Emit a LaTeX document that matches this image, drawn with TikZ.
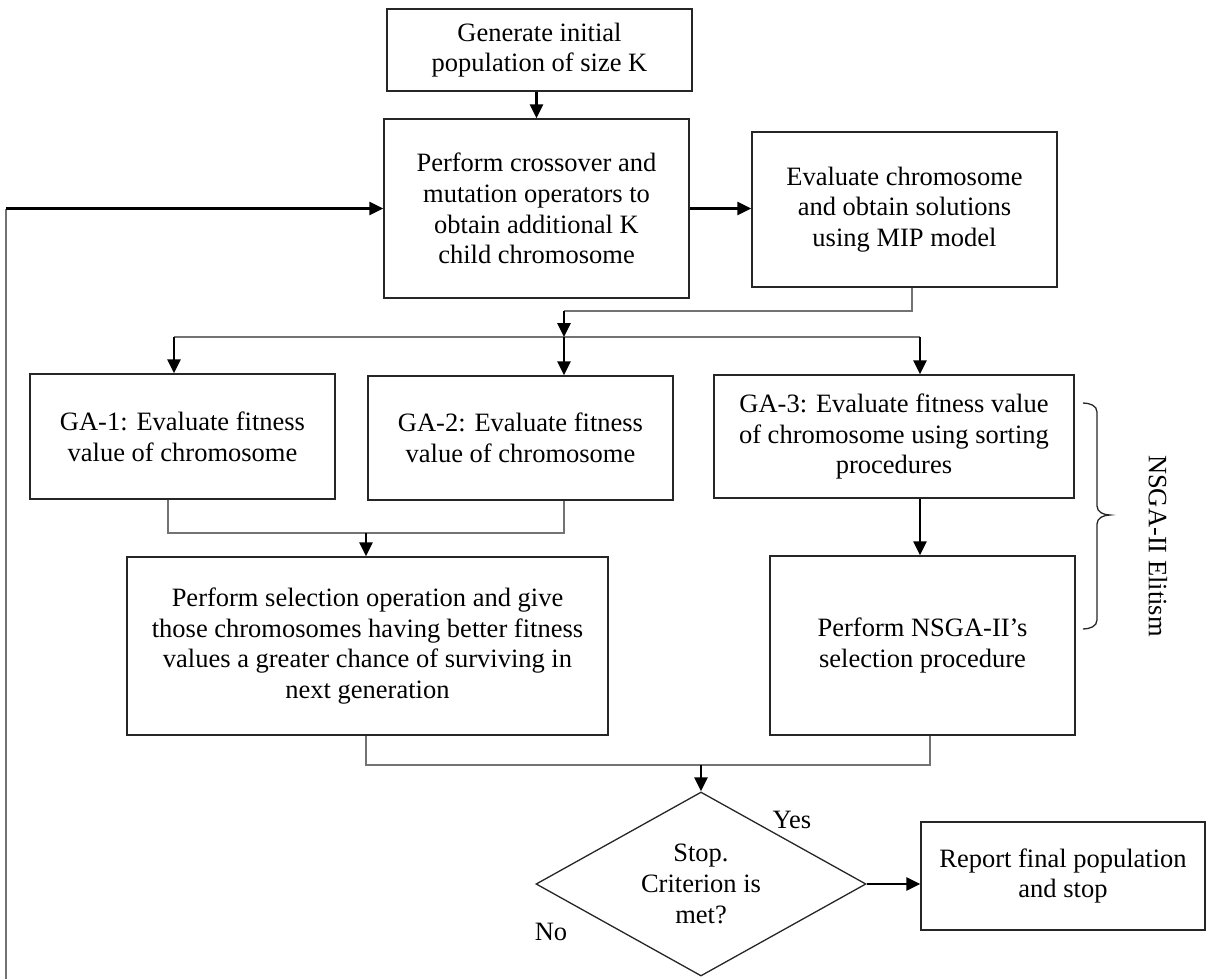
\documentclass[tikz,border=0pt]{standalone}
\usepackage{fontspec}
\setmainfont{Liberation Serif}
\usetikzlibrary{arrows.meta,shapes.geometric}
\begin{document}
\begin{tikzpicture}[x=1pt,y=-1pt,
  box/.style={draw=black!85, line width=1.3pt, align=center, inner sep=0pt, font=\fontsize{26.5}{30.7}\selectfont},
  conn/.style={draw=black!55, line width=1.6pt},
  arr/.style={draw=black, line width=2.6pt, -{Triangle[length=14pt,width=13pt]}},
  lbl/.style={font=\fontsize{26.5}{30.7}\selectfont},
  brace/.style={draw=black!85, line width=1.3pt}]
\useasboundingbox (0,0) rectangle (1207,979);

\node[box, minimum width=305, minimum height=82] (box1) at (539.5,50) {Generate initial\\population of size K};
\node[box, minimum width=305, minimum height=179] (box2) at (536.5,208.5) {Perform crossover and\\mutation operators to\\obtain additional K\\child chromosome};
\node[box, minimum width=305, minimum height=155] (box3) at (904.5,209.5) {Evaluate chromosome\\and obtain solutions\\using MIP model};
\node[box, minimum width=305, minimum height=125] (ga1) at (182.5,436.5) {GA-1: Evaluate fitness\\value of chromosome};
\node[box, minimum width=305, minimum height=124] (ga2) at (520.5,438) {GA-2: Evaluate fitness\\value of chromosome};
\node[box, minimum width=360, minimum height=123] (ga3) at (894,436.5) {GA-3: Evaluate fitness value\\of chromosome using sorting\\procedures};
\node[box, minimum width=481, minimum height=178] (box4) at (367.5,646) {Perform selection operation and give\\those chromosomes having better fitness\\values a greater chance of surviving in\\next generation};
\node[box, minimum width=305, minimum height=179] (box5) at (922.5,645.5) {Perform NSGA-II\textquoteright s\\selection procedure};
\node[box, diamond, aspect=1.79, minimum width=330, minimum height=184] (dia) at (701,884) {Stop.\\Criterion is\\met?};
\node[box, minimum width=284, minimum height=108] (box6) at (1063,876) {Report final population\\and stop};

\node[lbl] (yes) at (792,820) {Yes};
\node[lbl] (no) at (551,932) {No};
\node[lbl, rotate=-90] (nsga) at (1158,546) {NSGA-II Elitism};

% junctions
\coordinate (j1) at (912,311);
\coordinate (j2) at (564,311);
\coordinate (j3) at (564,337);
\coordinate (bl) at (174,337);
\coordinate (br) at (920,337);
\coordinate (m1) at (168,533);
\coordinate (m2) at (564,533);
\coordinate (m3) at (366,533);
\coordinate (b1) at (366,765);
\coordinate (b2) at (930,765);
\coordinate (b3) at (701,765);
\coordinate (l0) at (6,979);
\coordinate (l1) at (6,208.5);

\draw[arr] (box2.north |- box1.south) -- (box2.north);
\draw[arr] (box2.east) -- (box2.east -| box3.west);
\draw[conn] (j1 |- box3.south) -- (j1) -- (j2);
\draw[conn] (bl) -- (br);
\draw[arr] (j2) -- (j3);
\draw[arr] (bl) -- (bl |- ga1.north);
\draw[arr] (j3) -- (j3 |- ga2.north);
\draw[arr] (br) -- (br |- ga3.north);

\draw[conn] (m1 |- ga1.south) -- (m1) -- (m2) -- (m2 |- ga2.south);
\draw[arr] (m3) -- (m3 |- box4.north);
\draw[arr] (br |- ga3.south) -- (br |- box5.north);

\draw[conn] (b1 |- box4.south) -- (b1) -- (b2) -- (b2 |- box5.south);
\draw[arr] (b3) -- (dia.north);
\draw[arr] (dia.east) -- (dia.east -| box6.west);

\draw[conn] (l0) -- (l1);
\draw[arr] (l1) -- (box2.west);

\draw[brace] (1083,403) to[out=0,in=90] (1097,412) -- (1097,506) to[out=-90,in=180] (1110,515) to[out=180,in=90] (1097,524) -- (1097,620) to[out=-90,in=0] (1083,629);
\end{tikzpicture}
\end{document}
